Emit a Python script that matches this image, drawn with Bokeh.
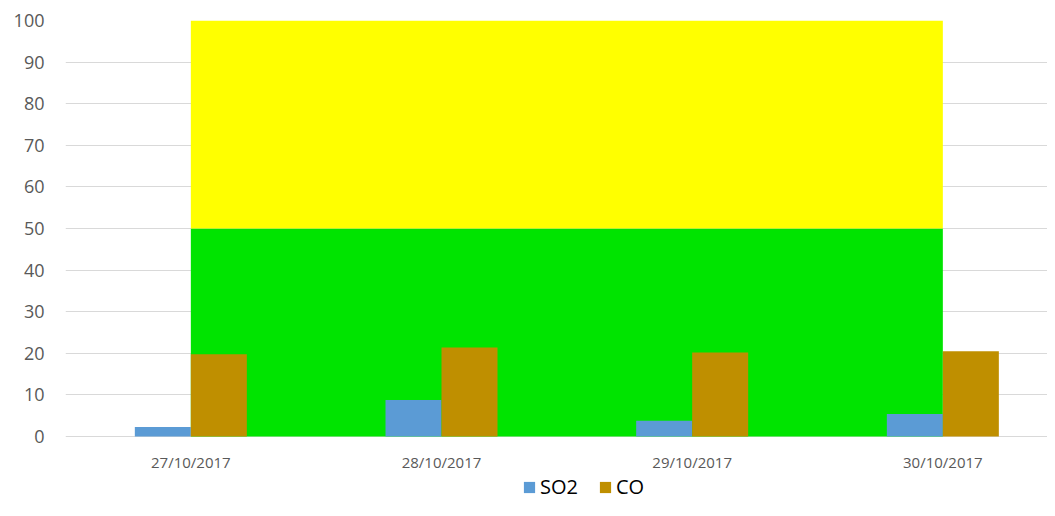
from bokeh.plotting import figure
from bokeh.models import (ColumnDataSource, Range1d, FixedTicker, Legend, LegendItem)
from bokeh.core.properties import value
from bokeh.transform import dodge
from bokeh.embed import file_html
from bokeh.resources import INLINE

dates = ["27/10/2017", "28/10/2017", "29/10/2017", "30/10/2017"]
so2 = [2.3, 8.8, 3.8, 5.4]
co = [19.8, 21.4, 20.2, 20.5]
band_good = [50, 50, 50, 50]      # green band (0-50)
band_moderate = [50, 50, 50, 50]  # yellow band (50-100)
y_ticks = [0, 10, 20, 30, 40, 50, 60, 70, 80, 90, 100]

xs = list(range(len(dates)))
src = ColumnDataSource(dict(x=xs, so2=so2, co=co, good=band_good, moderate=band_moderate,
                            label=dates, base=[0] * len(dates)))

# frame spans 20..500 px; 416 px for 0..100 -> extra room below 0 for labels and legend
y_lo = -(500 - 436) * 100 / 416
p = figure(width=1047, height=500, output_backend="svg", toolbar_location=None,
           x_range=Range1d(-0.5, 3.4175), y_range=Range1d(y_lo, 100),
           min_border_left=65, min_border_right=0, min_border_top=20, min_border_bottom=0)
p.outline_line_color = None
p.background_fill_color = "white"
p.border_fill_color = "white"

p.varea_stack(["good", "moderate"], x="x", color=["#00E400", "#FFFF00"], source=src)

bw = 0.2234
r1 = p.vbar(x=dodge("x", -bw / 2, range=p.x_range), top="so2", width=bw, bottom=0,
            color="#5B9BD5", line_color=None, source=src)
r2 = p.vbar(x=dodge("x", bw / 2, range=p.x_range), top="co", width=bw, bottom=0,
            color="#BF8F00", line_color=None, source=src)

# category labels under the zero line
p.text(x="x", y="base", text="label", source=src, text_align="center", text_baseline="top",
       y_offset=15, text_font=value("Open Sans"), text_font_size="15px", text_color="#595959")

# grids
p.xgrid.grid_line_color = None
p.ygrid.grid_line_color = "#D9D9D9"
p.ygrid.grid_line_width = 1
p.ygrid.ticker = FixedTicker(ticks=y_ticks)

# y axis
p.yaxis.ticker = FixedTicker(ticks=y_ticks)
p.yaxis.axis_line_color = None
p.yaxis.major_tick_line_color = None
p.yaxis.minor_tick_line_color = None
p.yaxis.major_tick_out = 0
p.yaxis.minor_tick_out = 0
p.yaxis.major_label_standoff = 21
p.yaxis.major_label_text_font = "Open Sans"
p.yaxis.major_label_text_font_size = "18px"
p.yaxis.major_label_text_color = "#595959"

# x axis hidden (labels drawn above)
p.xaxis.visible = False

legend = Legend(items=[LegendItem(label="SO2", renderers=[r1]),
                       LegendItem(label="CO", renderers=[r2])],
                orientation="horizontal", location=(457, 0))
legend.border_line_color = None
legend.background_fill_alpha = 0
legend.padding = 0
legend.margin = 0
legend.spacing = 20
legend.glyph_width = 14
legend.glyph_height = 14
legend.label_standoff = 4
legend.label_text_font = "Open Sans"
legend.label_text_font_size = "20px"
legend.label_text_color = "#000000"
legend.label_height = 20
p.add_layout(legend, "center")

open("out.html", "w").write(file_html(p, INLINE))
